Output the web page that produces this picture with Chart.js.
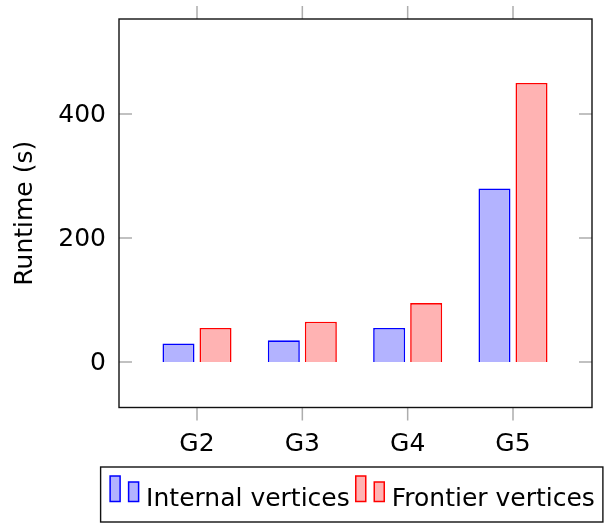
<!DOCTYPE html>
<html>
<head>
<meta charset="utf-8">
<script src="https://cdn.jsdelivr.net/npm/chart.js@4.4.1/dist/chart.umd.min.js"></script>
<style>
  html, body { margin: 0; padding: 0; background: #fff; }
  #wrap { width: 604px; height: 523px; position: relative; }
</style>
</head>
<body>
<div id="wrap"><canvas id="runtimeChart"></canvas></div>
<script>
/* ── data ── */
const categories = ["G2", "G3", "G4", "G5"];
const internalVertices = [30, 35, 55, 280];
const frontierVertices = [55, 65, 95, 450];
const yTickValues = [0, 200, 400];
const seriesLabels = ["Internal vertices", "Frontier vertices"];

const FONT = "'DejaVu Sans', sans-serif";
const TICK_GRAY = "#adadad";

/* frame box + pgfplots-style tick marks (inward on y, outward on x) */
const framePlugin = {
  id: "frame",
  afterDatasetsDraw(chart) {
    const { ctx, chartArea: a, scales: { x, y } } = chart;
    ctx.save();
    ctx.strokeStyle = TICK_GRAY;
    ctx.lineWidth = 1.5;
    ctx.beginPath();
    y.ticks.forEach(t => {
      const py = y.getPixelForValue(t.value);
      ctx.moveTo(a.left, py); ctx.lineTo(a.left + 13, py);
      ctx.moveTo(a.right, py); ctx.lineTo(a.right - 13, py);
    });
    x.ticks.forEach(t => {
      const px = x.getPixelForValue(t.value);
      ctx.moveTo(px, a.bottom); ctx.lineTo(px, a.bottom + 13);
      ctx.moveTo(px, a.top); ctx.lineTo(px, a.top - 13);
    });
    ctx.stroke();
    ctx.strokeStyle = "#111";
    ctx.lineWidth = 1.4;
    ctx.strokeRect(a.left, a.top, a.right - a.left, a.bottom - a.top);
    ctx.restore();
  }
};

/* boxed legend with the double-bar ybar markers */
const legendPlugin = {
  id: "boxLegend",
  afterDraw(chart) {
    const { ctx, chartArea: a } = chart;
    const markerW = 29, gapText = 7, gapItem = 6;
    ctx.save();
    ctx.font = "25px " + FONT;
    const items = chart.data.datasets.map(ds => ({ ds, w: ctx.measureText(ds.label).width }));
    const total = items.reduce((s, it) => s + markerW + gapText + it.w, 0) + gapItem * (items.length - 1);
    const baseY = chart.height - 17;
    let x = (a.left + a.right) / 2 - 3 - total / 2;
    const boxLeft = x - 9.5;

    items.forEach(it => {
      ctx.lineWidth = 1.5;
      ctx.fillStyle = it.ds.backgroundColor;
      ctx.strokeStyle = it.ds.borderColor;
      ctx.fillRect(x, baseY - 30, 10, 25.5);
      ctx.strokeRect(x, baseY - 30, 10, 25.5);
      ctx.fillRect(x + 18.5, baseY - 24, 10, 19.5);
      ctx.strokeRect(x + 18.5, baseY - 24, 10, 19.5);
      ctx.fillStyle = "#000";
      ctx.textBaseline = "alphabetic";
      ctx.fillText(it.ds.label, x + markerW + gapText, baseY);
      x += markerW + gapText + it.w + gapItem;
    });

    const boxRight = x - gapItem + 8;
    ctx.strokeStyle = "#111";
    ctx.lineWidth = 1.4;
    ctx.strokeRect(boxLeft, chart.height - 56, boxRight - boxLeft, 55);
    ctx.restore();
  }
};

const ctx = document.getElementById("runtimeChart");

new Chart(ctx, {
  type: "bar",
  data: {
    datasets: [
      {
        label: seriesLabels[0],
        data: internalVertices.map((v, i) => ({ x: i, y: v })),
        backgroundColor: "#b3b3ff",
        borderColor: "#0000ff",
        borderWidth: 1.6
      },
      {
        label: seriesLabels[1],
        data: frontierVertices.map((v, i) => ({ x: i, y: v })),
        backgroundColor: "#ffb3b3",
        borderColor: "#ff0000",
        borderWidth: 1.6
      }
    ]
  },
  options: {
    responsive: true,
    maintainAspectRatio: false,
    animation: false,
    categoryPercentage: 0.703,
    barPercentage: 0.865,
    layout: { padding: { top: 19, right: 12, bottom: 0, left: 0 } },
    plugins: {
      legend: { display: false },
      tooltip: { enabled: false }
    },
    scales: {
      x: {
        type: "linear",
        offset: false,
        min: -0.7405,
        max: 3.75,
        afterBuildTicks: s => { s.ticks = categories.map((c, i) => ({ value: i })); },
        afterFit: s => { s.height = 115.5; s.paddingLeft = 0; s.paddingRight = 0; },
        ticks: {
          padding: 22,
          color: "#000",
          font: { family: FONT, size: 25 },
          callback: v => categories[v]
        },
        grid: { display: false, drawTicks: false, offset: false },
        border: { display: false }
      },
      y: {
        min: -73.4,
        max: 553.2,
        afterBuildTicks: s => { s.ticks = yTickValues.map(v => ({ value: v })); },
        afterFit: s => { s.width = 119; s.paddingTop = 0; s.paddingBottom = 0; },
        ticks: {
          padding: 13,
          labelOffset: 2,
          color: "#000",
          font: { family: FONT, size: 25 }
        },
        grid: { display: false, drawTicks: false },
        border: { display: false },
        title: {
          display: true,
          text: "Runtime (s)",
          color: "#000",
          font: { family: FONT, size: 25 },
          padding: { top: 10, bottom: 0 }
        }
      }
    }
  },
  plugins: [framePlugin, legendPlugin]
});
</script>
</body>
</html>
